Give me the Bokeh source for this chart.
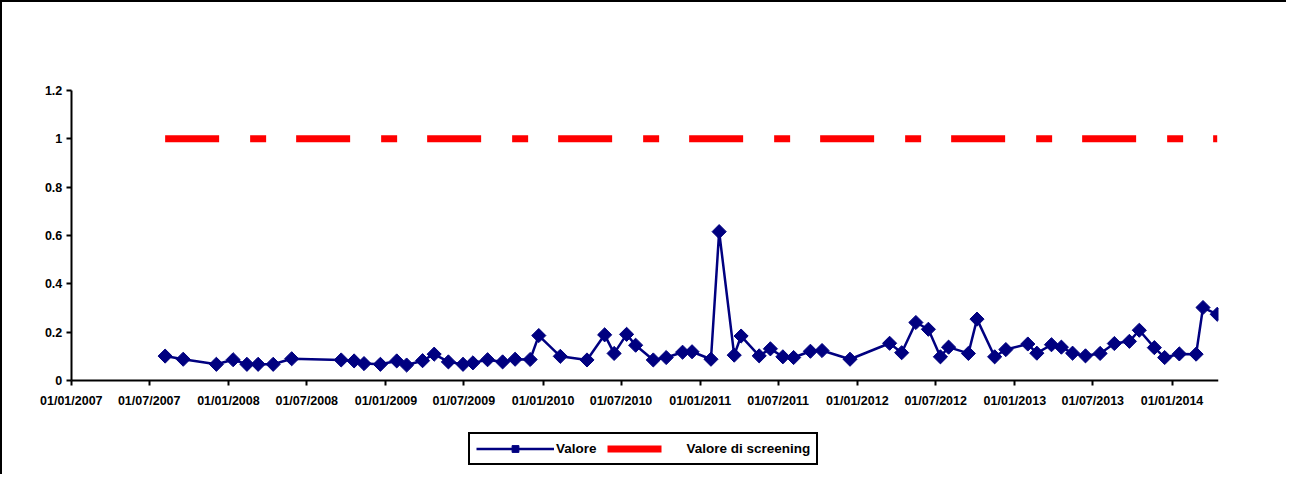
from datetime import datetime
import numpy as np
import pandas as pd
from bokeh.plotting import figure
from bokeh.models import (Range1d, FixedTicker, DatetimeTickFormatter,
                          CustomJSTickFormatter, Legend, LegendItem)
from bokeh.embed import file_html
from bokeh.resources import INLINE

# ---------------- data ----------------
dates = [
    "2007-08-07", "2007-09-18", "2007-12-04", "2008-01-12", "2008-02-13",
    "2008-03-10", "2008-04-14", "2008-05-27", "2008-09-19", "2008-10-19",
    "2008-11-11", "2008-12-19", "2009-01-26", "2009-02-18", "2009-03-27",
    "2009-04-23", "2009-05-26", "2009-06-29", "2009-07-22", "2009-08-25",
    "2009-09-29", "2009-10-28", "2009-12-02", "2009-12-22", "2010-02-10",
    "2010-04-13", "2010-05-24", "2010-06-15", "2010-07-14", "2010-08-04",
    "2010-09-14", "2010-10-14", "2010-11-21", "2010-12-13", "2011-01-26",
    "2011-02-14", "2011-03-21", "2011-04-06", "2011-05-18", "2011-06-13",
    "2011-07-12", "2011-08-06", "2011-09-14", "2011-10-11", "2011-12-15",
    "2012-03-16", "2012-04-13", "2012-05-16", "2012-06-14", "2012-07-12",
    "2012-07-31", "2012-09-15", "2012-10-05", "2012-11-15", "2012-12-11",
    "2013-01-31", "2013-02-21", "2013-03-27", "2013-04-19", "2013-05-15",
    "2013-06-14", "2013-07-18", "2013-08-20", "2013-09-24", "2013-10-17",
    "2013-11-21", "2013-12-15", "2014-01-18", "2014-02-26", "2014-03-14",
    "2014-04-16",
]
valore = [
    0.101, 0.088, 0.067, 0.086, 0.067,
    0.067, 0.067, 0.090, 0.085, 0.081,
    0.070, 0.067, 0.081, 0.064, 0.082,
    0.109, 0.077, 0.067, 0.073, 0.086,
    0.077, 0.088, 0.087, 0.186, 0.100,
    0.085, 0.189, 0.112, 0.191, 0.146,
    0.085, 0.095, 0.117, 0.119, 0.088,
    0.616, 0.105, 0.184, 0.102, 0.131,
    0.098, 0.095, 0.121, 0.124, 0.088,
    0.154, 0.115, 0.240, 0.212, 0.098,
    0.138, 0.112, 0.254, 0.098, 0.128,
    0.151, 0.113, 0.148, 0.138, 0.113,
    0.102, 0.112, 0.153, 0.162, 0.208,
    0.136, 0.095, 0.110, 0.109, 0.302,
    0.274,
]
screening_value = 1.0
screening = [screening_value] * len(dates)

x_tick_labels = [
    "01/01/2007", "01/07/2007", "01/01/2008", "01/07/2008", "01/01/2009",
    "01/07/2009", "01/01/2010", "01/07/2010", "01/01/2011", "01/07/2011",
    "01/01/2012", "01/07/2012", "01/01/2013", "01/07/2013", "01/01/2014",
]
y_ticks = [0, 0.2, 0.4, 0.6, 0.8, 1, 1.2]
y_axis_bounds = (0, 1.2)
x_start = "2007-01-01"
x_end = "2014-04-19"
x_view_start = "2006-09-05"      # a little room left of the axis for its labels

# ---------------- layout (pixels) ----------------
PX_PER_UNIT = 290 / 1.2          # 1.2 units span 290 px
ROOM_BELOW = 92                  # px of frame kept below y = 0 for the legend
ROOM_ABOVE = 10                  # px of frame kept above y = 1.2 for its label
y_view_start = -ROOM_BELOW / PX_PER_UNIT
y_view_end = 1.2 + ROOM_ABOVE / PX_PER_UNIT

# ---------------- figure ----------------
x = pd.to_datetime(dates)
x_tick_ms = [pd.Timestamp(datetime.strptime(s, "%d/%m/%Y")).value / 1e6 for s in x_tick_labels]
x_start_ts = pd.Timestamp(x_start)
x_end_ts = pd.Timestamp(x_end)

FONT = "Liberation Sans"

p = figure(
    width=1286, height=474,
    x_axis_type="datetime",
    x_range=Range1d(pd.Timestamp(x_view_start), x_end_ts),
    y_range=Range1d(y_view_start, y_view_end),
    output_backend="svg", toolbar_location=None,
    min_border_left=18, min_border_right=70,
    min_border_top=78, min_border_bottom=4,
    background_fill_color="white", border_fill_color="white",
)
p.styles = {"border-left": "2px solid black", "border-top": "2px solid black"}
p.outline_line_color = None
p.xgrid.grid_line_color = None
p.ygrid.grid_line_color = None

for ax in (p.xaxis[0], p.yaxis[0]):
    ax.axis_line_width = 2
    ax.axis_line_color = "black"
    ax.major_tick_line_width = 2
    ax.major_tick_line_color = "black"
    ax.major_tick_out = 5
    ax.major_tick_in = 0
    ax.minor_tick_out = 0
    ax.minor_tick_in = 0
    ax.major_label_text_font = FONT
    ax.major_label_text_font_style = "bold"
    ax.major_label_text_font_size = "12.5px"
    ax.major_label_text_color = "black"

p.xaxis.ticker = FixedTicker(ticks=x_tick_ms)
fmt = "%d/%m/%Y"
p.xaxis.formatter = DatetimeTickFormatter(
    milliseconds=fmt, seconds=fmt, minsec=fmt, minutes=fmt, hourmin=fmt,
    hours=fmt, days=fmt, months=fmt, years=fmt)
p.xaxis.major_label_standoff = 8
p.xaxis.fixed_location = 0
p.xaxis.bounds = (x_start_ts.to_pydatetime(), x_end_ts.to_pydatetime())

p.yaxis.ticker = FixedTicker(ticks=y_ticks)
p.yaxis.bounds = y_axis_bounds
p.yaxis.fixed_location = x_start_ts.value / 1e6
p.yaxis.formatter = CustomJSTickFormatter(code="return (Math.round(tick*10)/10).toString();")
p.yaxis.major_label_standoff = 4

# screening line
r_scr = p.line(x, screening, line_color="#FF0000", line_width=7,
               line_dash="54 31 16 30", line_cap="butt")
# valore line + markers
r_line = p.line(x, valore, line_color="#000080", line_width=2.5)
r_pts = p.scatter(x, valore, marker="square", size=10, angle=np.pi / 4,
                  fill_color="#000080", line_color="#000080")

legend = Legend(
    items=[LegendItem(label="Valore", renderers=[r_line, r_pts]),
           LegendItem(label="Valore di screening", renderers=[r_scr])],
    orientation="horizontal",
    location=(448, 7),
    glyph_width=78, glyph_height=17, label_height=17,
    label_standoff=2, spacing=10, padding=6, margin=0,
    label_text_font=FONT, label_text_font_style="bold",
    label_text_font_size="13.5px", label_text_color="black",
    border_line_color="black", border_line_width=2, border_line_alpha=1.0,
    background_fill_color="white", background_fill_alpha=1.0,
)
p.add_layout(legend)

open("out.html", "w").write(file_html(p, INLINE))
